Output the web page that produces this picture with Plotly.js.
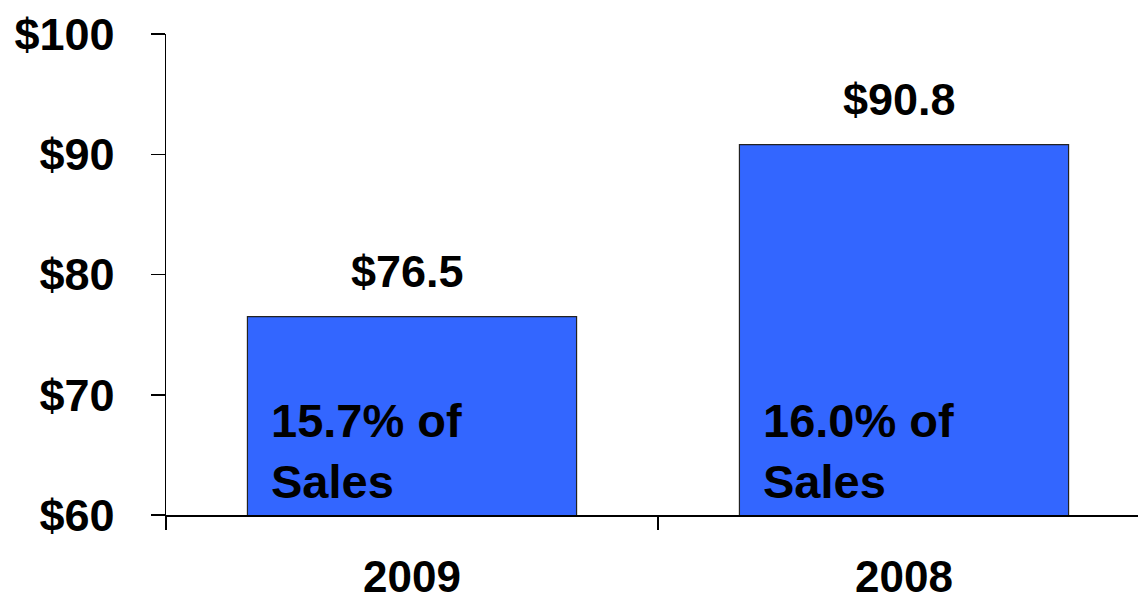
<!DOCTYPE html>
<html>
<head>
<meta charset="utf-8">
<script src="https://cdn.plot.ly/plotly-3.0.1.min.js"></script>
<style>html,body{margin:0;padding:0;background:#fff;}#chart{width:1138px;height:600px;}</style>
</head>
<body>
<div id="chart"></div>
<script>
const categories = ['2009', '2008'];
const values = [76.5, 90.8];
const valueLabels = ['$76.5', '$90.8'];
const pctLabels = ['15.7% of<br>Sales', '16.0% of<br>Sales'];
const yTickVals = [60, 70, 80, 90, 100];
const yTickLabels = ['$60', '$70', '$80', '$90', '$100'];

const xpos = categories.map((c, i) => i);
const FONT = 'Liberation Sans, Arial, sans-serif';
const barWidth = 0.669;

const annotations = [];
xpos.forEach((x, i) => {
  annotations.push({
    x: x - 0.01, y: values[i], xref: 'x', yref: 'y',
    text: valueLabels[i], showarrow: false,
    xanchor: 'center', yanchor: 'bottom', yshift: 18,
    font: {family: FONT, size: 45, color: '#000', weight: 'bold'}
  });
  annotations.push({
    x: x - barWidth / 2, y: 60, xref: 'x', yref: 'y',
    text: pctLabels[i], showarrow: false, align: 'left',
    xanchor: 'left', yanchor: 'bottom', xshift: 22, yshift: 5,
    font: {family: FONT, size: 47, color: '#000', weight: 'bold'}
  });
});

const data = [{
  type: 'bar', x: xpos, y: values, width: barWidth,
  marker: {color: '#3366FF', line: {color: '#222', width: 1.2}},
  hoverinfo: 'none'
}];

const layout = {
  width: 1138, height: 600,
  margin: {l: 166, r: 0, t: 34, b: 85},
  paper_bgcolor: '#fff', plot_bgcolor: '#fff',
  showlegend: false,
  xaxis: {
    range: [-0.5, 1.4756],
    tickmode: 'array', tickvals: xpos, ticktext: categories,
    ticks: '', showgrid: false, zeroline: false,
    showline: true, linecolor: '#000', linewidth: 1.5,
    ticklabelstandoff: 23,
    tickfont: {family: FONT, size: 44, color: '#000', weight: 'bold'},
    minor: {tickmode: 'linear', tick0: -0.5, dtick: 1, ticks: 'outside', ticklen: 13, tickcolor: '#000', tickwidth: 1.5, showgrid: false}
  },
  yaxis: {
    range: [60, 100],
    tickmode: 'array', tickvals: yTickVals, ticktext: yTickLabels,
    ticks: 'outside', ticklen: 14, tickcolor: '#000', tickwidth: 1.5,
    showgrid: false, zeroline: false,
    showline: true, linecolor: '#000', linewidth: 1.5,
    ticklabelstandoff: 27,
    tickfont: {family: FONT, size: 45, color: '#000', weight: 'bold'}
  },
  annotations: annotations
};

Plotly.newPlot('chart', data, layout, {staticPlot: true, displayModeBar: false});
</script>
</body>
</html>
